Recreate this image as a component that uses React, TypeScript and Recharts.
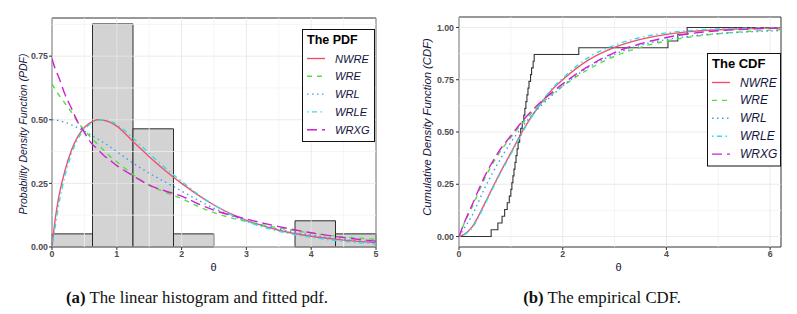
import { ComposedChart, Line, XAxis, YAxis, ReferenceArea, ReferenceLine } from 'recharts';

// histogram (density scale), 31 observations, bin width 0.625
const binEdges = [0, 0.625, 1.25, 1.875, 2.5, 3.125, 3.75, 4.375, 5];
const binDensity = [0.0516, 0.877, 0.4645, 0.0516, 0, 0, 0.103, 0.0516];

// fitted pdfs
const pdfX = [0, 0.05, 0.1, 0.2, 0.3, 0.4, 0.5, 0.6, 0.7, 0.8, 0.9, 1, 1.25, 1.5, 1.75, 2, 2.25, 2.5, 3, 3.5, 4, 4.5, 5];
const pdfNWRE = [0, 0.11, 0.19, 0.3, 0.38, 0.435, 0.47, 0.49, 0.5, 0.498, 0.49, 0.475, 0.415, 0.355, 0.3, 0.25, 0.205, 0.165, 0.105, 0.066, 0.042, 0.027, 0.017];
const pdfWRE = [0.64, 0.62, 0.6, 0.565, 0.53, 0.49, 0.46, 0.43, 0.405, 0.38, 0.355, 0.335, 0.285, 0.243, 0.215, 0.19, 0.16, 0.135, 0.1, 0.075, 0.055, 0.04, 0.03];
const pdfWRL = [0.5, 0.499, 0.497, 0.49, 0.48, 0.468, 0.455, 0.44, 0.425, 0.41, 0.393, 0.375, 0.33, 0.29, 0.255, 0.22, 0.185, 0.152, 0.103, 0.07, 0.047, 0.03, 0.019];
const pdfWRLE = [0, 0.08, 0.16, 0.28, 0.365, 0.425, 0.462, 0.485, 0.497, 0.5, 0.495, 0.482, 0.428, 0.368, 0.31, 0.258, 0.208, 0.165, 0.1, 0.062, 0.038, 0.022, 0.012];
const pdfWRXG = [0.74, 0.7, 0.67, 0.6, 0.545, 0.49, 0.45, 0.41, 0.385, 0.36, 0.34, 0.32, 0.28, 0.243, 0.22, 0.2, 0.17, 0.145, 0.11, 0.08, 0.056, 0.037, 0.023];

// fitted cdfs
const cdfX = [0, 0.1, 0.25, 0.5, 0.75, 1, 1.25, 1.5, 1.75, 2, 2.5, 3, 3.5, 4, 4.5, 5, 5.5, 6, 6.2];
const cdfNWRE = [0, 0.01, 0.045, 0.16, 0.285, 0.4, 0.515, 0.61, 0.69, 0.75, 0.845, 0.905, 0.943, 0.967, 0.981, 0.989, 0.994, 0.997, 0.998];
const cdfWRE = [0, 0.063, 0.14, 0.28, 0.39, 0.474, 0.55, 0.615, 0.672, 0.72, 0.8, 0.862, 0.905, 0.935, 0.956, 0.97, 0.98, 0.987, 0.989];
const cdfWRL = [0, 0.04, 0.1, 0.234, 0.35, 0.45, 0.535, 0.605, 0.665, 0.72, 0.81, 0.872, 0.915, 0.942, 0.96, 0.971, 0.978, 0.983, 0.985];
const cdfWRLE = [0, 0.008, 0.04, 0.154, 0.28, 0.394, 0.51, 0.61, 0.695, 0.757, 0.857, 0.915, 0.952, 0.974, 0.986, 0.993, 0.996, 0.998, 0.999];
const cdfWRXG = [0, 0.065, 0.15, 0.29, 0.4, 0.482, 0.56, 0.625, 0.68, 0.73, 0.815, 0.88, 0.922, 0.952, 0.972, 0.984, 0.991, 0.996, 0.997];

// sorted observations (read from the empirical cdf steps)
const sample = [0.62, 0.75, 0.83, 0.88, 0.93, 0.97, 1.0, 1.02, 1.04, 1.06, 1.08, 1.1, 1.12, 1.14, 1.17, 1.19, 1.22, 1.25,
  1.27, 1.29, 1.31, 1.33, 1.35, 1.38, 1.4, 1.43, 1.45, 2.31, 4.03, 4.22, 4.4];

const pdfTicksX = [0, 1, 2, 3, 4, 5];
const pdfTicksY = [0, 0.25, 0.5, 0.75];
const cdfTicksX = [0, 2, 4, 6];
const cdfTicksY = [0, 0.25, 0.5, 0.75, 1];

const series = [
  { key: 'NWRE', color: '#F0506E', dash: undefined },
  { key: 'WRE', color: '#55DD44', dash: '5 5' },
  { key: 'WRL', color: '#3A9EF0', dash: '1.5 3.5' },
  { key: 'WRLE', color: '#2EE0E0', dash: '1.5 3.5 5 3.5' },
  { key: 'WRXG', color: '#D020D0', dash: '10 5' },
];

const pdfRows = pdfX.map((x, i) => ({
  x, NWRE: pdfNWRE[i], WRE: pdfWRE[i], WRL: pdfWRL[i], WRLE: pdfWRLE[i], WRXG: pdfWRXG[i],
}));
const cdfRows = cdfX.map((x, i) => ({
  x, NWRE: cdfNWRE[i], WRE: cdfWRE[i], WRL: cdfWRL[i], WRLE: cdfWRLE[i], WRXG: cdfWRXG[i],
}));
const ecdfRows = [{ x: 0, F: 0 }, ...sample.map((s, i) => ({ x: s, F: (i + 1) / sample.length })), { x: 6.2, F: 1 }];

const sans = '"Liberation Sans", Arial, sans-serif';
const tickStyle = { fontSize: 8.8, fontWeight: 700, fill: '#4D4D4D', fontFamily: sans };
const navy = '#141440';

function LegendBox({ title, left, top, width, rowGap, fontSize, titleSize }: any) {
  const height = 24 + rowGap * 5;
  return (
    <svg style={{ position: 'absolute', left, top }} width={width} height={height}>
      <rect x={0.5} y={0.5} width={width - 1} height={height - 1} fill="#fff" stroke="#111" />
      <text x={5} y={15} fontSize={titleSize} fontWeight={700} fill="#000" fontFamily={sans}>{title}</text>
      {series.map((s, i) => {
        const cy = 29.5 + i * rowGap;
        return (
          <g key={s.key}>
            <line x1={5} x2={23} y1={cy} y2={cy} stroke={s.color} strokeWidth={1.4} strokeDasharray={s.dash} />
            <text x={33} y={cy + 4} fontSize={fontSize} fontStyle="italic" fill={navy} fontFamily={sans}>{s.key}</text>
          </g>
        );
      })}
    </svg>
  );
}

function gridLines(xs: number[], ys: number[], color: string) {
  return [
    ...xs.map(v => <ReferenceLine key={'gx' + color + v} x={v} stroke={color} strokeWidth={0.8} />),
    ...ys.map(v => <ReferenceLine key={'gy' + color + v} y={v} stroke={color} strokeWidth={0.8} />),
  ];
}

function PdfPanel() {
  return (
    <ComposedChart width={400} height={280} data={pdfRows} margin={{ top: 18, right: 24, left: 0, bottom: 0 }}>
      <XAxis dataKey="x" type="number" domain={[0, 5]} ticks={pdfTicksX} allowDataOverflow height={33}
        tick={tickStyle} tickSize={3} tickMargin={1} axisLine={false} tickLine={{ stroke: '#333' }} />
      <YAxis type="number" domain={[0, 0.9]} ticks={pdfTicksY} allowDataOverflow width={52}
        tick={tickStyle} tickSize={3} tickMargin={1} axisLine={false} tickLine={{ stroke: '#333' }}
        tickFormatter={(v: number) => v.toFixed(2)} />
      {gridLines([0.5, 1.5, 2.5, 3.5, 4.5], [0.125, 0.375, 0.625, 0.875], '#F3F3F3')}
      {gridLines(pdfTicksX, pdfTicksY, '#E6E6E6')}
      {binDensity.map((d, i) => d > 0 ? (
        <ReferenceArea key={'bin' + i} x1={binEdges[i]} x2={binEdges[i + 1]} y1={0} y2={d}
          fill="#D3D3D3" fillOpacity={1} stroke="#1A1A1A" strokeWidth={0.9} ifOverflow="visible" />
      ) : null)}
      {series.map(s => (
        <Line key={s.key} dataKey={s.key} type="monotone" stroke={s.color} strokeWidth={1.4}
          strokeDasharray={s.dash} dot={false} activeDot={false} isAnimationActive={false} />
      ))}
      <ReferenceArea x1={0} x2={5} y1={0} y2={0.9} fill="none" stroke="#333" strokeWidth={1} ifOverflow="visible" />
    </ComposedChart>
  );
}

function CdfPanel() {
  return (
    <ComposedChart width={397} height={280} data={cdfRows} margin={{ top: 17, right: 16, left: 0, bottom: 0 }}>
      <XAxis dataKey="x" type="number" domain={[0, 6.21]} ticks={cdfTicksX} allowDataOverflow height={33}
        tick={tickStyle} tickSize={3} tickMargin={1} axisLine={false} tickLine={{ stroke: '#333' }} />
      <YAxis type="number" domain={[-0.05, 1.05]} ticks={cdfTicksY} allowDataOverflow width={59}
        tick={tickStyle} tickSize={3} tickMargin={2} axisLine={false} tickLine={{ stroke: '#333' }}
        tickFormatter={(v: number) => v.toFixed(2)} />
      {gridLines([1, 3, 5], [0.125, 0.375, 0.625, 0.875], '#F3F3F3')}
      {gridLines(cdfTicksX, cdfTicksY, '#E6E6E6')}
      <Line data={ecdfRows} dataKey="F" type="stepAfter" stroke="#333" strokeWidth={1.1}
        dot={false} activeDot={false} isAnimationActive={false} />
      {series.map(s => (
        <Line key={s.key} dataKey={s.key} type="monotone" stroke={s.color} strokeWidth={1.4}
          strokeDasharray={s.dash} dot={false} activeDot={false} isAnimationActive={false} />
      ))}
      <ReferenceArea x1={0} x2={6.21} y1={-0.05} y2={1.05} fill="none" stroke="#333" strokeWidth={1} ifOverflow="visible" />
    </ComposedChart>
  );
}

const rotTitle = (text: string, left: number, top: number, size: number) => (
  <div style={{
    position: 'absolute', left, top, transform: 'translate(-50%, -50%) rotate(-90deg)', whiteSpace: 'nowrap',
    fontFamily: sans, fontStyle: 'italic', fontSize: size, color: navy, lineHeight: 1,
  }}>{text}</div>
);

const centered = (content: any, left: number, top: number, style: any) => (
  <div style={{ position: 'absolute', left, top, transform: 'translate(-50%, -50%)', whiteSpace: 'nowrap', lineHeight: 1, ...style }}>
    {content}
  </div>
);

export default function App() {
  const serif = '"Liberation Serif", "Times New Roman", serif';
  return (
    <div style={{ position: 'absolute', left: 0, top: 0, width: 797, height: 314, background: '#fff', overflow: 'hidden' }}>
      <div style={{ position: 'absolute', left: 0, top: 0 }}><PdfPanel /></div>
      <div style={{ position: 'absolute', left: 400, top: 0 }}><CdfPanel /></div>

      {rotTitle('Probability Density Function (PDF)', 23, 134, 10.5)}
      {rotTitle('Cumulative Density Function (CDF)', 428, 127, 11.3)}
      {centered('θ', 213.5, 267, { fontFamily: sans, fontSize: 11, color: navy })}
      {centered('θ', 618.5, 267, { fontFamily: sans, fontSize: 11, color: navy })}

      <LegendBox title="The PDF" left={302} top={29} width={73} rowGap={17.8} fontSize={11.1} titleSize={12.5} />
      <LegendBox title="The CDF" left={707} top={53} width={74} rowGap={17.9} fontSize={12} titleSize={13} />

      {centered(<span><b>(a)</b> The linear histogram and fitted pdf.</span>, 197, 298, { fontFamily: serif, fontSize: 16.8, color: '#111' })}
      {centered(<span><b>(b)</b> The empirical CDF.</span>, 602, 298, { fontFamily: serif, fontSize: 16.8, color: '#111' })}
    </div>
  );
}
